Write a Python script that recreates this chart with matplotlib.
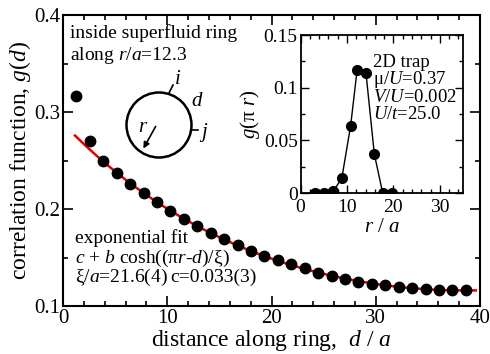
import numpy as np
import matplotlib
matplotlib.use('Agg')
import matplotlib.pyplot as plt
from matplotlib.patches import Circle
from matplotlib.lines import Line2D
from matplotlib.ticker import MultipleLocator, FixedLocator, FixedFormatter

plt.rcParams['font.family'] = ['Liberation Serif', 'DejaVu Serif']
plt.rcParams['mathtext.fontset'] = 'custom'
plt.rcParams['mathtext.rm'] = 'Liberation Serif'
plt.rcParams['mathtext.it'] = 'Liberation Serif:italic'

# g(d) along the ring r/a = 12.3
dist = [1.29, 2.58, 3.86, 5.15, 6.44, 7.73, 9.02, 10.30, 11.59, 12.88,
        14.17, 15.46, 16.74, 18.03, 19.32, 20.61, 21.90, 23.18, 24.47, 25.76,
        27.05, 28.34, 29.63, 30.91, 32.20, 33.49, 34.78, 36.07, 37.36, 38.64]
gd = [0.316, 0.270, 0.250, 0.237, 0.226, 0.216, 0.207, 0.198, 0.190, 0.182,
      0.175, 0.169, 0.163, 0.157, 0.152, 0.147, 0.143, 0.139, 0.134, 0.131,
      0.128, 0.125, 0.123, 0.122, 0.120, 0.119, 0.118, 0.117, 0.116, 0.116]

# fit parameters  c + b cosh((pi r - d)/xi)
ring_r = 12.3
fit_c = 0.033
fit_b = 0.083
fit_xi = 21.6

# inset: g(pi r) vs r/a
rad = [3.1, 5.1, 7.1, 8.9, 10.8, 12.2, 14.1, 15.9, 17.7, 19.6]
g_pir = [0.0, 0.0, 0.002, 0.014, 0.064, 0.117, 0.114, 0.037, 0.0, 0.0]

fig = plt.figure(figsize=(4.9, 3.54), dpi=100)
W, H = 490.0, 354.0

def px_rect(x0, y0, x1, y1):
    return [x0 / W, 1 - y1 / H, (x1 - x0) / W, (y1 - y0) / H]

ax = fig.add_axes(px_rect(63, 15, 480, 306))
dd = np.linspace(1.15, 39.6, 200)
ax.plot(dd, fit_c + fit_b * np.cosh((np.pi * ring_r - dd) / fit_xi), color='#e00000', lw=1.8, zorder=2)
ax.plot(dist, gd, 'o', color='k', ms=7.5, zorder=3)
ax.set_xlim(0, 40)
ax.set_ylim(0.1, 0.4)
ax.xaxis.set_major_locator(MultipleLocator(10))
ax.xaxis.set_minor_locator(MultipleLocator(2))
ax.yaxis.set_major_locator(FixedLocator([0.1, 0.2, 0.3, 0.4]))
ax.yaxis.set_major_formatter(FixedFormatter(['0.1', '0.2', '0.3', '0.4']))
ax.yaxis.set_minor_locator(MultipleLocator(0.05))
ax.tick_params(which='both', direction='in', top=True, right=True, labelsize=15, width=1.2)
ax.tick_params(which='major', length=7, pad=2)
ax.tick_params(which='minor', length=3.5)
for s in ax.spines.values():
    s.set_linewidth(1.5)
ax.set_xlabel('distance along ring,  $d$ / $a$', fontsize=17, labelpad=0)
ax.set_ylabel('correlation function, $g$($d$)', fontsize=17, labelpad=1)

ax.text(0.017, 0.921, 'inside superfluid ring', transform=ax.transAxes, fontsize=14, va='baseline')
ax.text(0.017, 0.845, 'along $r$/$a$=12.3', transform=ax.transAxes, fontsize=14, va='baseline')
ax.text(0.029, 0.2175, 'exponential fit', transform=ax.transAxes, fontsize=14, va='baseline')
ax.text(0.029, 0.149, '$c$ + $b$ cosh((π$r$-$d$)/ξ)', transform=ax.transAxes, fontsize=14, va='baseline')
ax.text(0.029, 0.0835, 'ξ/$a$=21.6(4)', transform=ax.transAxes, fontsize=14, va='baseline')
ax.text(0.258, 0.0835, 'c=0.033(3)', transform=ax.transAxes, fontsize=14, va='baseline')

# ring sketch
fig.add_artist(Circle((1.59, (H - 125) / 100), 0.325, transform=fig.dpi_scale_trans,
                      fill=False, lw=1.8, color='k'))
fig.add_artist(Line2D([169 / W, 173 / W], [1 - 93 / H, 1 - 85 / H], transform=fig.transFigure, color='k', lw=1.2))
fig.add_artist(Line2D([192 / W, 198 / W], [1 - 130 / H, 1 - 130 / H], transform=fig.transFigure, color='k', lw=1.2))
fig.text(178 / W, 1 - 80 / H, '$i$', fontsize=15, ha='center', va='center')
fig.text(197 / W, 1 - 101 / H, '$d$', fontsize=15, ha='center', va='center')
fig.text(204 / W, 1 - 132 / H, '$j$', fontsize=15, ha='center', va='center')
fig.text(143 / W, 1 - 128 / H, '$r$', fontsize=15, ha='center', va='center')
ax.annotate('', xy=(142, H - 151), xytext=(157, H - 124), xycoords='figure pixels',
            textcoords='figure pixels',
            arrowprops=dict(arrowstyle='-|>', lw=1.2, color='k', mutation_scale=9))

# inset
ins = fig.add_axes(px_rect(300.5, 35, 463, 193))
ins.plot(rad, g_pir, '-o', color='k', lw=1.0, ms=7)
ins.set_xlim(0, 35)
ins.set_ylim(0, 0.15)
ins.xaxis.set_major_locator(MultipleLocator(10))
ins.xaxis.set_minor_locator(MultipleLocator(2))
ins.yaxis.set_major_locator(FixedLocator([0, 0.05, 0.1, 0.15]))
ins.yaxis.set_major_formatter(FixedFormatter(['0', '0.05', '0.1', '0.15']))
ins.yaxis.set_minor_locator(MultipleLocator(0.025))
ins.tick_params(which='both', direction='in', top=True, right=True, labelsize=14, width=1.0)
ins.tick_params(which='major', length=6, pad=2)
ins.tick_params(which='minor', length=3)
ins.tick_params(axis='x', pad=4)
for s in ins.spines.values():
    s.set_linewidth(1.3)
ins.set_xlabel('$r$ / $a$', fontsize=15, labelpad=2)
ins.set_ylabel('$g$(π $r$)', fontsize=15, labelpad=1)
for yb, txt in zip([0.80, 0.688, 0.578, 0.468],
                   ['2D trap', 'μ/$U$=0.37', '$V$/$U$=0.002', '$U$/$t$=25.0']):
    ins.text(0.446, yb, txt, transform=ins.transAxes, fontsize=13.5, va='baseline')

fig.savefig('out.png', dpi=100)
